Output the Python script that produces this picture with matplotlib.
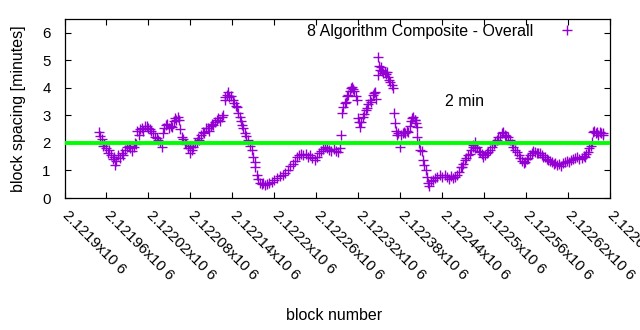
import matplotlib
matplotlib.use('Agg')
import matplotlib.pyplot as plt
from matplotlib.transforms import ScaledTranslation

plt.rcParams['font.family'] = ['Liberation Sans', 'DejaVu Sans']

# block spacing per block (minutes), 8 algorithm composite
blocks = [
    2121949, 2121951, 2121953, 2121955, 2121957, 2121959, 2121962, 2121964, 2121966, 2121969,
    2121971, 2121972, 2121974, 2121977, 2121979, 2121982, 2121984, 2121987, 2121989, 2121992,
    2121994, 2121997, 2121999, 2122001, 2122002, 2122004, 2122006, 2122008, 2122011, 2122013,
    2122015, 2122018, 2122020, 2122022, 2122024, 2122027, 2122029, 2122032, 2122034, 2122037,
    2122039, 2122041, 2122043, 2122045, 2122047, 2122050, 2122052, 2122054, 2122056, 2122058,
    2122060, 2122062, 2122064, 2122066, 2122068, 2122070, 2122072, 2122074, 2122077, 2122079,
    2122080, 2122082, 2122084, 2122087, 2122089, 2122091, 2122093, 2122095, 2122098, 2122100,
    2122102, 2122105, 2122107, 2122109, 2122111, 2122113, 2122115, 2122118, 2122120, 2122122,
    2122125, 2122127, 2122129, 2122130, 2122132, 2122134, 2122136, 2122138, 2122141, 2122143,
    2122145, 2122147, 2122149, 2122151, 2122153, 2122154, 2122156, 2122158, 2122160, 2122163,
    2122165, 2122168, 2122170, 2122172, 2122173, 2122175, 2122177, 2122180, 2122182, 2122184,
    2122187, 2122190, 2122193, 2122197, 2122200, 2122204, 2122208, 2122212, 2122216, 2122220,
    2122223, 2122227, 2122230, 2122233, 2122236, 2122239, 2122242, 2122245, 2122248, 2122251,
    2122254, 2122258, 2122261, 2122264, 2122267, 2122270, 2122273, 2122276, 2122279, 2122282,
    2122285, 2122288, 2122291, 2122294, 2122296, 2122297, 2122299, 2122301, 2122303, 2122305,
    2122306, 2122308, 2122310, 2122311, 2122313, 2122315, 2122317, 2122319, 2122320, 2122321,
    2122323, 2122325, 2122327, 2122329, 2122331, 2122333, 2122335, 2122337, 2122339, 2122341,
    2122343, 2122344, 2122346, 2122348, 2122349, 2122350, 2122351, 2122353, 2122355, 2122356,
    2122358, 2122360, 2122361, 2122363, 2122365, 2122366, 2122368, 2122370, 2122371, 2122373,
    2122375, 2122376, 2122378, 2122380, 2122382, 2122384, 2122386, 2122388, 2122390, 2122392,
    2122394, 2122396, 2122397, 2122399, 2122401, 2122402, 2122403, 2122404, 2122405, 2122407,
    2122409, 2122411, 2122413, 2122415, 2122417, 2122419, 2122420, 2122422, 2122424, 2122427,
    2122430, 2122433, 2122437, 2122440, 2122444, 2122447, 2122450, 2122453, 2122456, 2122459,
    2122462, 2122465, 2122467, 2122469, 2122471, 2122473, 2122475, 2122478, 2122480, 2122482,
    2122484, 2122485, 2122487, 2122488, 2122490, 2122493, 2122495, 2122497, 2122499, 2122502,
    2122504, 2122506, 2122509, 2122512, 2122514, 2122516, 2122519, 2122521, 2122523, 2122526,
    2122528, 2122530, 2122532, 2122535, 2122538, 2122540, 2122542, 2122545, 2122548, 2122550,
    2122552, 2122555, 2122557, 2122559, 2122562, 2122564, 2122566, 2122569, 2122571, 2122573,
    2122576, 2122578, 2122580, 2122583, 2122585, 2122588, 2122590, 2122592, 2122595, 2122598,
    2122600, 2122602, 2122605, 2122608, 2122610, 2122613, 2122616, 2122619, 2122622, 2122625,
    2122628, 2122631, 2122634, 2122637, 2122640, 2122643, 2122645, 2122647, 2122649, 2122651,
    2122653, 2122655, 2122656, 2122658, 2122660, 2122662, 2122664, 2122666, 2122668, 2122670,
    2122671,
]
spacing = [
    2.40, 2.25, 2.15, 1.90, 1.95, 1.80, 1.65, 1.75, 1.55, 1.40,
    1.50, 1.20, 1.35, 1.55, 1.45, 1.62, 1.55, 1.75, 1.85, 1.90,
    1.80, 1.72, 1.85, 2.00, 1.95, 2.45, 2.30, 2.50, 2.55, 2.45,
    2.60, 2.62, 2.55, 2.52, 2.45, 2.35, 2.20, 2.18, 2.10, 2.05,
    1.85, 2.35, 2.55, 2.65, 2.70, 2.55, 2.62, 2.58, 2.80, 2.90,
    2.85, 2.95, 2.85, 2.50, 2.20, 2.15, 2.00, 1.95, 1.80, 1.90,
    1.63, 1.75, 1.85, 2.00, 2.05, 2.18, 2.10, 2.30, 2.40, 2.35,
    2.55, 2.55, 2.45, 2.60, 2.70, 2.65, 2.75, 2.83, 2.90, 2.80,
    2.94, 3.00, 3.55, 3.67, 3.75, 3.85, 3.65, 3.70, 3.56, 3.45,
    3.35, 3.30, 3.10, 2.94, 2.80, 2.65, 2.55, 2.36, 2.25, 2.10,
    1.90, 1.74, 1.50, 1.30, 1.13, 0.83, 0.70, 0.54, 0.50, 0.55,
    0.47, 0.52, 0.55, 0.58, 0.65, 0.72, 0.80, 0.85, 0.92, 1.00,
    1.15, 1.22, 1.35, 1.50, 1.56, 1.60, 1.55, 1.58, 1.50, 1.55,
    1.45, 1.38, 1.50, 1.65, 1.70, 1.78, 1.85, 1.80, 1.74, 1.72,
    1.78, 1.70, 1.67, 1.80, 2.29, 3.10, 3.30, 3.45, 3.50, 3.70,
    3.74, 3.90, 4.00, 4.03, 3.95, 3.90, 3.70, 3.56, 2.90, 2.75,
    2.58, 2.75, 2.94, 3.05, 3.20, 3.27, 3.40, 3.56, 3.50, 3.74,
    3.80, 3.85, 3.60, 4.45, 5.12, 4.80, 4.65, 4.75, 4.60, 4.54,
    4.58, 4.50, 4.58, 4.40, 4.30, 4.21, 4.10, 3.99, 3.08, 2.72,
    2.45, 2.29, 2.35, 1.85, 2.30, 2.36, 2.40, 2.35, 2.45, 2.40,
    2.60, 2.80, 2.90, 2.95, 2.85, 2.83, 2.72, 2.58, 2.20, 2.00,
    1.74, 1.70, 1.38, 1.20, 1.02, 0.75, 0.54, 0.45, 0.60, 0.65,
    0.72, 0.75, 0.83, 0.78, 0.85, 0.76, 0.70, 0.80, 0.73, 0.75,
    0.85, 0.95, 1.13, 1.13, 1.25, 1.38, 1.45, 1.56, 1.60, 1.75,
    1.85, 1.92, 2.05, 1.80, 1.85, 1.70, 1.67, 1.60, 1.50, 1.56,
    1.62, 1.67, 1.75, 1.85, 1.95, 2.03, 2.10, 2.20, 2.20, 2.35,
    2.40, 2.29, 2.25, 2.20, 2.10, 1.95, 1.85, 1.75, 1.67, 1.55,
    1.45, 1.35, 1.28, 1.31, 1.40, 1.45, 1.55, 1.62, 1.70, 1.67,
    1.62, 1.65, 1.63, 1.55, 1.50, 1.49, 1.42, 1.38, 1.35, 1.30,
    1.25, 1.27, 1.20, 1.22, 1.18, 1.28, 1.31, 1.35, 1.30, 1.38,
    1.40, 1.45, 1.49, 1.40, 1.45, 1.52, 1.49, 1.60, 1.67, 1.80,
    1.90, 2.03, 2.40, 2.45, 2.35, 2.40, 2.30, 2.38, 2.35, 2.36,
    2.30,
]

target = 2.0  # 2 minute target spacing
xticks = list(range(2121900, 2122681, 60))
xlabels = ['%gx10 6' % (t / 1e6) for t in xticks]
yticks = [0, 1, 2, 3, 4, 5, 6]

fig = plt.figure(figsize=(6.4, 3.3), dpi=100)
ax = fig.add_axes([64.5 / 640, 1 - 198 / 330, 545 / 640, 179 / 330])

ax.plot(blocks, spacing, linestyle='none', marker='+', markersize=6.5,
        markeredgewidth=1.0, color='#9400d3', label='8 Algorithm Composite - Overall')
ax.axhline(target, color='#00ff00', linewidth=2.8, zorder=3)
ax.text(2122473, 3.5, '2 min', ha='center', va='center', fontsize=11.5)

ax.set_xlim(xticks[0], xticks[-1])
ax.set_ylim(0, 6.5)
ax.set_xticks(xticks)
ax.set_xticklabels(xlabels, rotation=-45, ha='left', va='top', rotation_mode='anchor')
ax.set_yticks(yticks)
ax.tick_params(axis='both', direction='in', length=4.5, width=0.8, top=True, right=True,
               labelsize=10.8)
ax.tick_params(axis='y', pad=10)
ax.tick_params(axis='x', pad=7)
# nudge the slanted labels a little to the right
shift = ScaledTranslation(4 / 72, 0, fig.dpi_scale_trans)
for lbl in ax.get_xticklabels():
    lbl.set_transform(lbl.get_transform() + shift)
for s in ax.spines.values():
    s.set_linewidth(0.9)

ax.set_xlabel('block number', fontsize=11.5, labelpad=0)
ax.xaxis.set_label_coords(0.494, -0.615)
ax.set_ylabel('block spacing [minutes]', fontsize=11.5)
ax.yaxis.set_label_coords(-0.071, 0.5)

ax.legend(loc='center right', bbox_to_anchor=(0.937, 0.93), frameon=False,
          markerfirst=False, handlelength=1.0, handletextpad=1.6,
          borderpad=0, borderaxespad=0, fontsize=11.5, numpoints=1)

plt.savefig('out.png', dpi=100)
